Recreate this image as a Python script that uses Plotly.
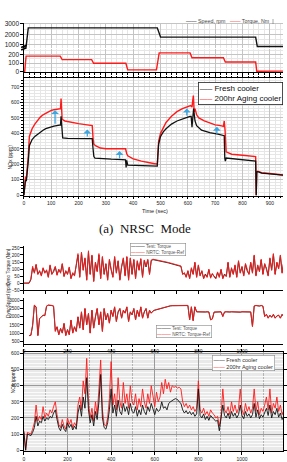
import plotly.graph_objects as go

# ---------------- (a) NRSC mode data ----------------
nrsc_speed_time = [0, 8, 16, 488, 500, 848, 854, 950]
nrsc_speed_rpm = [800, 820, 2630, 2630, 1750, 1750, 850, 850]

nrsc_torque_time = [0, 3, 8, 133, 140, 248, 255, 373, 380, 485, 495, 608, 615, 730, 737, 848, 852, 950]
nrsc_torque_nm = [0, 0, 182, 182, 140, 140, 98, 98, 20, 20, 220, 220, 162, 162, 112, 112, 3, 5]

nrsc_fresh_time = [0, 3, 6, 9, 12, 16, 20, 25, 30, 40,
                   50, 60, 70, 80, 90, 100, 110, 120, 130, 134,
                   136, 140, 142, 160, 200, 250, 253, 256, 260, 280,
                   320, 360, 372, 374, 376, 380, 420, 460, 488, 490,
                   493, 500, 510, 520, 540, 560, 580, 600, 608, 612,
                   615, 618, 621, 626, 632, 650, 680, 710, 730, 733,
                   735, 737, 740, 800, 848, 850, 852, 856, 870, 900,
                   950]
nrsc_fresh_nox = [0, 80, 100, 90, 140, 220, 320, 345, 360, 380,
                  395, 410, 420, 430, 437, 442, 446, 450, 452, 455,
                  510, 375, 370, 368, 367, 366, 300, 250, 240, 237,
                  233, 230, 228, 180, 225, 195, 192, 190, 188, 250,
                  330, 380, 410, 430, 460, 480, 495, 505, 510, 510,
                  440, 500, 560, 480, 450, 420, 405, 395, 390, 385,
                  240, 220, 240, 230, 220, 0, 150, 152, 143, 138,
                  130]

nrsc_aged_time = [0, 3, 6, 9, 12, 16, 20, 25, 30, 40,
                  50, 60, 70, 80, 90, 100, 110, 120, 130, 134,
                  136, 140, 150, 175, 200, 225, 250, 253, 256, 262,
                  280, 300, 330, 360, 372, 376, 380, 400, 430, 460,
                  488, 490, 493, 500, 510, 520, 540, 560, 580, 600,
                  610, 615, 620, 623, 626, 632, 640, 660, 680, 700,
                  720, 730, 733, 736, 740, 760, 800, 848, 850, 852,
                  856, 870, 900, 950]
nrsc_aged_nox = [0, 100, 120, 110, 160, 250, 380, 410, 430, 460,
                 485, 505, 520, 530, 540, 548, 553, 557, 560, 560,
                 625, 490, 480, 470, 463, 456, 450, 370, 330, 320,
                 305, 300, 298, 296, 300, 270, 255, 235, 220, 210,
                 200, 260, 350, 400, 440, 470, 510, 540, 560, 575,
                 580, 570, 645, 540, 560, 520, 500, 480, 465, 455,
                 450, 445, 480, 420, 280, 265, 258, 250, 0, 150,
                 155, 145, 140, 130]

# increase arrows: time, from, to
arrow_time = [114, 232, 350, 596, 706]
arrow_from = [452, 370, 228, 505, 388]
arrow_to = [550, 425, 285, 560, 442]

# ---------------- (b) NRTC mode data (8 s samples) ----------------
nrtc_time = list(range(0, 1200, 8))

nrtc_torque_ref = [
    0, 0, 0, 2, 30, 120, 70, 135, 60, 90,
    50, 110, 70, 95, 40, 130, 60, 85, 120, 55,
    100, 70, 140, 45, 90, 60, 115, 30, 75, 50,
    130, 210, 40, 220, 90, 180, 20, 230, 60, 200,
    10, 150, 80, 210, 30, 190, 60, 140, 20, 170,
    100, 40, 190, 70, 160, 20, 120, 180, 50, 190,
    20, 180, 60, 170, 30, 160, 90, 175, 40, 165,
    120, 170, 60, 165, 170, 168, 166, 163, 160, 158,
    155, 152, 149, 146, 143, 140, 137, 133, 130, 126,
    122, 60, 75, 40, 90, 30, 110, 60, 150, 40,
    130, 50, 90, 30, 60, 40, 100, 35, 70, 45,
    30, 80, 40, 100, 30, 60, 45, 150, 40, 110,
    60, 130, 40, 160, 70, 120, 50, 140, 90, 60,
    150, 70, 200, 50, 130, 80, 170, 60, 140, 100,
    50, 180, 90, 210, 60, 150, 100, 200, 70, 160]
nrtc_torque_test = [
    0, 0, 0, 0, 25, 110, 75, 130, 65, 85,
    55, 105, 75, 90, 45, 125, 65, 80, 115, 60,
    95, 75, 135, 50, 85, 65, 110, 35, 70, 55,
    125, 200, 45, 215, 95, 175, 25, 220, 65, 195,
    15, 145, 85, 200, 35, 185, 65, 135, 25, 165,
    95, 45, 185, 75, 155, 25, 115, 175, 55, 185,
    25, 175, 65, 165, 35, 155, 95, 170, 45, 160,
    115, 165, 65, 160, 167, 165, 163, 160, 157, 155,
    152, 149, 146, 143, 140, 137, 134, 130, 127, 123,
    119, 65, 70, 45, 85, 35, 105, 65, 145, 45,
    125, 55, 85, 35, 65, 45, 95, 40, 65, 50,
    35, 75, 45, 95, 35, 65, 50, 145, 45, 105,
    65, 125, 45, 155, 75, 115, 55, 135, 85, 65,
    145, 75, 195, 55, 125, 85, 165, 65, 135, 105,
    55, 175, 95, 205, 65, 145, 105, 195, 75, 155]

nrtc_speed_ref = [
    None, None, None, 850, 870, 1500, 2700, 2600, 850, 1900,
    2000, 2100, 2050, 2650, 2700, 2700, 2680, 2650, 1100, 1400,
    900, 1300, 1000, 1600, 850, 1200, 900, 1800, 1000, 1400,
    1100, 2000, 1300, 2300, 1200, 2500, 1500, 2200, 1000, 2400,
    1300, 2000, 2500, 1500, 2300, 1100, 2500, 1800, 2200, 1600,
    2400, 2000, 2600, 1700, 2300, 2500, 1900, 2400, 2200, 2600,
    1700, 2300, 2100, 2500, 1800, 2400, 2000, 2600, 1900, 2300,
    2500, 1900, 2400, 2200, 2350, 2400, 2430, 2470, 2500, 2540,
    2570, 2600, 2630, 2650, 2660, 2670, 2670, 2680, 2680, 2670,
    2680, 2670, 2660, 2650, 2680, 1800, 2600, 1750, 2600, 2300,
    2290, 2300, 2280, 2300, 2290, 2300, 2290, 1800, 1850, 2280,
    2290, 2300, 2280, 2300, 2000, 2290, 2300, 2280, 2290, 2300,
    2290, 2280, 2300, 2290, 2280, 2300, 2290, 2280, 2300, 2290,
    2290, 1400, 2650, 2680, 2660, 2650, 2680, 2640, 2000, 2150,
    1900, 2100, 1950, 2150, 1900, 2050, 2100, 1900, 2150, 2000]
nrtc_speed_test = [
    None, None, None, 860, 880, 1450, 2680, 2580, 870, 1880,
    1980, 2080, 2070, 2630, 2690, 2690, 2670, 2630, 1150, 1380,
    920, 1280, 1020, 1580, 870, 1220, 920, 1780, 1020, 1380,
    1120, 1980, 1320, 2280, 1220, 2480, 1520, 2180, 1020, 2380,
    1320, 1980, 2480, 1520, 2280, 1120, 2480, 1820, 2180, 1620,
    2380, 2020, 2580, 1720, 2280, 2480, 1920, 2380, 2220, 2580,
    1720, 2280, 2120, 2480, 1820, 2380, 2020, 2580, 1920, 2280,
    2480, 1920, 2380, 2220, 2340, 2390, 2420, 2460, 2490, 2530,
    2560, 2590, 2620, 2640, 2650, 2660, 2660, 2670, 2670, 2660,
    2670, 2660, 2650, 2640, 2670, 1820, 2590, 1770, 2590, 2290,
    2280, 2290, 2270, 2290, 2280, 2290, 2280, 1820, 1870, 2270,
    2280, 2290, 2270, 2290, 2020, 2280, 2290, 2270, 2280, 2290,
    2280, 2270, 2290, 2280, 2270, 2290, 2280, 2270, 2290, 2280,
    2280, 1420, 2640, 2670, 2650, 2640, 2670, 2630, 2020, 2140,
    1920, 2080, 1970, 2130, 1920, 2040, 2080, 1920, 2130, 1990]

nrtc_nox_fresh = [
    110, 0, 100, 95, 90, 110, 140, 210, 150, 180,
    170, 210, 180, 200, 190, 210, 200, 230, 250, 190,
    140, 120, 160, 130, 115, 170, 140, 160, 125, 150,
    130, 230, 280, 210, 330, 260, 450, 250, 170, 220,
    150, 240, 190, 300, 470, 200, 140, 130, 170, 250,
    380, 230, 280, 210, 310, 240, 220, 290, 240, 270,
    220, 290, 240, 230, 270, 210, 250, 220, 280, 240,
    220, 270, 240, 290, 250, 220, 260, 240, 250, 300,
    260, 270, 250, 290, 300, 310, 315, 320, 315, 300,
    290, 250, 230, 245, 225, 240, 220, 235, 210, 225,
    380, 215, 200, 225, 190, 210, 185, 215, 200, 190,
    180, 185, 120, 190, 280, 215, 200, 230, 195, 240,
    210, 230, 200, 220, 280, 215, 195, 240, 210, 225,
    200, 220, 290, 205, 250, 195, 220, 205, 235, 260,
    215, 280, 200, 240, 220, 260, 205, 230, 190, 210]
nrtc_nox_aged = [
    120, 0, 110, 105, 100, 130, 170, 280, 180, 210,
    190, 270, 200, 230, 210, 250, 230, 270, 300, 220,
    160, 140, 190, 150, 130, 200, 160, 190, 140, 170,
    150, 280, 330, 250, 430, 350, 570, 300, 200, 260,
    180, 300, 220, 380, 560, 250, 160, 150, 200, 320,
    550, 280, 350, 250, 450, 300, 260, 420, 290, 350,
    260, 400, 300, 280, 350, 250, 320, 270, 380, 300,
    260, 350, 290, 400, 320, 270, 360, 300, 330, 420,
    350, 440, 380, 420, 360, 400, 390, 395, 385, 390,
    380, 300, 270, 290, 260, 280, 250, 270, 240, 260,
    430, 250, 230, 260, 220, 240, 210, 250, 230, 220,
    200, 210, 150, 210, 380, 250, 230, 270, 220, 300,
    240, 280, 230, 260, 380, 250, 220, 290, 240, 270,
    230, 260, 380, 240, 300, 220, 260, 240, 280, 330,
    250, 380, 230, 290, 260, 330, 240, 280, 220, 250]

# ---------------- figure ----------------
W, H = 287, 462
def fx(px): return px / W
def fy(py): return 1 - py / H

FONT = "Liberation Sans, Arial, sans-serif"
RED = "#ff1a1a"
BLK = "#111111"
XDOM = [fx(23.3), 1.0]

fig = go.Figure()

def line(x, y, xa, ya, color, width):
    fig.add_trace(go.Scatter(x=x, y=y, xaxis=xa, yaxis=ya, mode="lines",
                             line=dict(color=color, width=width), showlegend=False,
                             hoverinfo="skip"))

# (a)
line(nrsc_speed_time, nrsc_speed_rpm, "x", "y", BLK, 1.4)
line(nrsc_torque_time, nrsc_torque_nm, "x2", "y2", RED, 1.4)
line(nrsc_aged_time, nrsc_aged_nox, "x3", "y3", RED, 1.4)
line(nrsc_fresh_time, nrsc_fresh_nox, "x3", "y3", BLK, 1.3)
# (b)
line(nrtc_time, nrtc_torque_test, "x4", "y4", BLK, 0.9)
line(nrtc_time, nrtc_torque_ref, "x4", "y4", RED, 0.9)
line(nrtc_time, nrtc_speed_test, "x5", "y5", BLK, 0.9)
line(nrtc_time, nrtc_speed_ref, "x5", "y5", RED, 0.9)
line(nrtc_time, nrtc_nox_aged, "x6", "y6", RED, 0.9)
line(nrtc_time, nrtc_nox_fresh, "x6", "y6", BLK, 0.9)

GRID = "#c4c4c4"
MINOR = "#e6e6e6"

def xax(rng, anchor, **kw):
    d = dict(domain=XDOM, range=rng, anchor=anchor, showgrid=False, zeroline=False,
             showline=True, linecolor="black", linewidth=1, ticks="outside", ticklen=2.5,
             tickcolor="black", tickfont=dict(family=FONT, size=5, color="#222"))
    d.update(kw)
    return d

def yax(dom, rng, anchor, **kw):
    d = dict(domain=dom, range=rng, anchor=anchor, showgrid=False, zeroline=False,
             showline=True, linecolor="black", linewidth=1, ticks="outside", ticklen=2.5,
             tickcolor="black", tickfont=dict(family=FONT, size=5, color="#222"))
    d.update(kw)
    return d

layout = dict(
    width=W, height=H, autosize=False,
    margin=dict(l=0, r=0, t=0, b=0, pad=0),
    paper_bgcolor="white", plot_bgcolor="white", showlegend=False,
    # (a) speed
    xaxis=xax([0, 948], "y", showline=False, ticks="", showticklabels=False,
              showgrid=True, gridcolor=GRID, gridwidth=0.8, dtick=100,
              minor=dict(dtick=20, showgrid=True, gridcolor=MINOR)),
    yaxis=yax([fy(47), fy(21)], [670, 3120], "x", tickvals=[1000, 2000, 3000],
              tickfont=dict(family=FONT, size=6.5, color="#222"),
              showgrid=True, gridcolor=GRID, gridwidth=0.8,
              minor=dict(tickvals=[1500, 2500], showgrid=True, gridcolor=MINOR)),
    # (a) torque
    xaxis2=xax([0, 948], "y2", showticklabels=False, dtick=100, ticklen=3,
               showgrid=True, gridcolor=GRID, gridwidth=0.8,
               minor=dict(dtick=20, ticks="outside", ticklen=2, showgrid=True, gridcolor=MINOR)),
    yaxis2=yax([fy(71), fy(47.5)], [-6, 267], "x2", tickvals=[0, 100, 200],
               tickfont=dict(family=FONT, size=6.5, color="#222"),
               showgrid=True, gridcolor=GRID, gridwidth=0.8,
               minor=dict(tickvals=[50, 150, 250], showgrid=True, gridcolor=MINOR)),
    # (a) NOx
    xaxis3=xax([0, 948], "y3", dtick=100, mirror="ticks", ticklen=2.5,
               showgrid=True, gridcolor=GRID, gridwidth=0.8,
               minor=dict(dtick=20, ticks="outside", ticklen=1.5, showgrid=True, gridcolor=MINOR)),
    yaxis3=yax([fy(196.5), fy(77)], [-5, 758], "x3", dtick=100,
               showgrid=True, gridcolor=GRID, gridwidth=0.8,
               minor=dict(dtick=20, ticks="outside", ticklen=1.5, showgrid=True, gridcolor=MINOR)),
    # (b) torque
    xaxis4=xax([0, 1188], "y4", showticklabels=False, dtick=100),
    yaxis4=yax([fy(292), fy(247)], [-50, 265], "x4", dtick=50,
               tickfont=dict(family=FONT, size=4.6, color="#222")),
    # (b) speed
    xaxis5=xax([0, 1188], "y5", dtick=200, tickfont=dict(family=FONT, size=5, color="#222"),
               minor=dict(dtick=100, ticks="outside", ticklen=2)),
    yaxis5=yax([fy(346), fy(300)], [380, 3120], "x5", dtick=500,
               tickfont=dict(family=FONT, size=4.6, color="#222")),
    # (b) NOx
    xaxis6=xax([0, 1188], "y6", dtick=200, mirror="ticks",
               showgrid=True, gridcolor="#9a9a9a", gridwidth=0.8,
               minor=dict(dtick=100, ticks="outside", ticklen=2, showgrid=True, gridcolor="#b5b5b5")),
    yaxis6=yax([fy(455), fy(355)], [-6, 607], "x6", dtick=100, mirror="ticks",
               showgrid=True, gridcolor="#9a9a9a", gridwidth=0.8,
               minor=dict(dtick=20, showgrid=True, gridcolor="#fbfbfb")),
)
fig.update_layout(**layout)

shapes = [
    # grey background of NRTC NOx panel
    dict(type="rect", xref="x6 domain", yref="y6 domain", x0=0, x1=1, y0=0, y1=1,
         fillcolor="#e9e9e9", line=dict(width=0), layer="below"),
    # axis-break mark on (a) top panel
    dict(type="line", xref="paper", yref="paper", x0=fx(20.5), x1=fx(26),
         y0=fy(46), y1=fy(43.8), line=dict(color="black", width=1.6)),
    dict(type="line", xref="paper", yref="paper", x0=fx(20.5), x1=fx(26),
         y0=fy(48.6), y1=fy(46.4), line=dict(color="black", width=1.6)),
]
fig.update_layout(shapes=shapes)

ann = []
def text(x, y, s, size, **kw):
    d = dict(x=fx(x), y=fy(y), xref="paper", yref="paper", text=s, showarrow=False,
             font=dict(family=FONT, size=size, color="#222"))
    d.update(kw)
    ann.append(d)

# arrows
for t, a, b in zip(arrow_time, arrow_from, arrow_to):
    ann.append(dict(x=t, y=b, ax=t, ay=a, xref="x3", yref="y3", axref="x3", ayref="y3",
                    text="", showarrow=True, arrowhead=1, arrowsize=1.0, arrowwidth=1.3,
                    arrowcolor="#3ea6e0"))

# legends
text(186, 19.5, "<span style='color:#111'>——</span> Speed, rpm   "
     "<span style='color:#ff1a1a'>——</span> Torque, Nm  |", 5.3,
     xanchor="left", yanchor="middle", font=dict(family=FONT, size=5.3, color="#444"))
text(201, 81.5, "<span style='color:#111'>—–</span> Fresh cooler<br>"
     "<span style='color:#ff1a1a'>—–</span> 200hr Aging cooler", 8,
     xanchor="left", yanchor="top", align="left", bordercolor="#222", borderwidth=0.8,
     borderpad=1, bgcolor="white", font=dict(family=FONT, size=8, color="#111"))
text(131.5, 244, "<span style='color:#111'>———</span> Test: Torque<br>"
     "<span style='color:#ff1a1a'>———</span> NRTC: Torque-Ref", 4.6,
     xanchor="left", yanchor="top", align="left", bordercolor="#888", borderwidth=0.6,
     borderpad=0.5, bgcolor="white", font=dict(family=FONT, size=4.6, color="#555"))
text(158, 327.5, "<span style='color:#111'>———</span> Test: Torque<br>"
     "<span style='color:#ff1a1a'>———</span> NRTC: Torque-Ref", 4.6,
     xanchor="left", yanchor="top", align="left", bordercolor="#888", borderwidth=0.6,
     borderpad=0.5, bgcolor="white", font=dict(family=FONT, size=4.6, color="#555"))
text(215, 358, "<span style='color:#111'>——</span> Fresh cooler<br>"
     "<span style='color:#ff1a1a'>——</span> 200hr Aging cooler", 5.6,
     xanchor="left", yanchor="top", align="left", bordercolor="#888", borderwidth=0.6,
     borderpad=1, bgcolor="white", font=dict(family=FONT, size=5.6, color="#333"))

# axis titles
text(157, 211.7, "Time (sec)", 5.5, yanchor="middle")
text(4, 142, "NOx (ppm)", 5, textangle=-90)
text(3.5, 268, "Dyno Torque (Nm)", 4.5, textangle=-90)
text(3.5, 322, "DynoSpeed (rpm)", 4.5, textangle=-90)
text(8, 398, "NOx (ppm)", 4.8, textangle=-90)

# caption
text(147, 229.5, "(a)  NRSC  Mode", 13, yanchor="middle",
     font=dict(family="Liberation Serif, Times New Roman, serif", size=13, color="#111"))

fig.update_layout(annotations=ann)
fig.write_html("out.html")
